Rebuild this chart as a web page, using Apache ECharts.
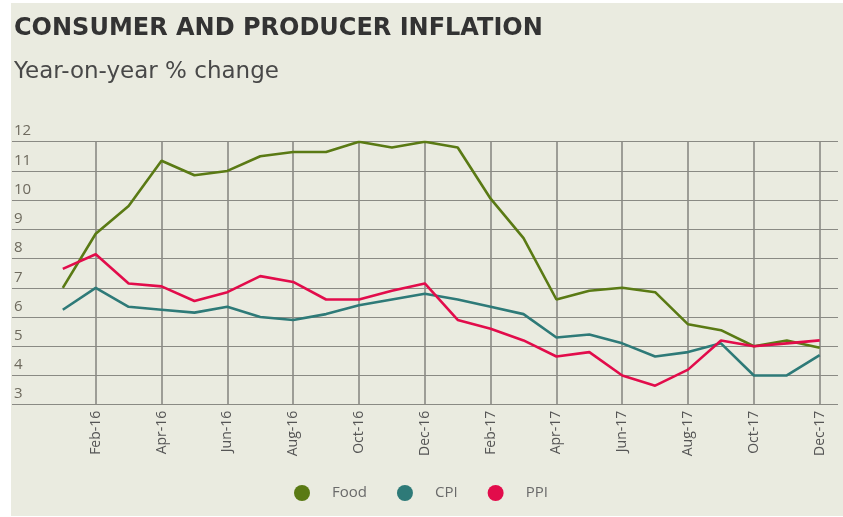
<!DOCTYPE html>
<html>
<head>
<meta charset="utf-8">
<script src="https://cdn.jsdelivr.net/npm/echarts@6/dist/echarts.min.js"></script>
<style>
  html, body { margin: 0; padding: 0; background: #fff; }
  #chart { position: absolute; left: 11px; top: 3px; width: 832px; height: 513px; }
</style>
</head>
<body>
<div id="chart"></div>
<script>
const months = ["Jan-16", "Feb-16", "Mar-16", "Apr-16", "May-16", "Jun-16", "Jul-16", "Aug-16",
  "Sep-16", "Oct-16", "Nov-16", "Dec-16", "Jan-17", "Feb-17", "Mar-17", "Apr-17",
  "May-17", "Jun-17", "Jul-17", "Aug-17", "Sep-17", "Oct-17", "Nov-17", "Dec-17"];
const food = [7.0, 8.85, 9.8, 11.35, 10.85, 11.0, 11.5, 11.65, 11.65, 12.0, 11.8, 12.0,
  11.8, 10.05, 8.7, 6.6, 6.9, 7.0, 6.85, 5.75, 5.55, 5.0, 5.2, 4.95];
const cpi = [6.25, 7.0, 6.35, 6.25, 6.15, 6.35, 6.0, 5.9, 6.1, 6.4, 6.6, 6.8,
  6.6, 6.35, 6.1, 5.3, 5.4, 5.1, 4.65, 4.8, 5.1, 4.0, 4.0, 4.7];
const ppi = [7.65, 8.15, 7.15, 7.05, 6.55, 6.85, 7.4, 7.2, 6.6, 6.6, 6.9, 7.15,
  5.9, 5.6, 5.2, 4.65, 4.8, 4.0, 3.65, 4.2, 5.2, 5.0, 5.1, 5.2];

const gridColor = "#8a8a84";
const chart = echarts.init(document.getElementById("chart"));
chart.setOption({
  backgroundColor: "#eaebe0",
  animation: false,
  title: {
    text: "CONSUMER AND PRODUCER INFLATION",
    subtext: "Year-on-year % change",
    left: 3,
    top: 14,
    padding: 0,
    itemGap: 20,
    textStyle: { fontFamily: "DejaVu Sans", fontSize: 24, fontWeight: "bold", color: "#333" },
    subtextStyle: { fontFamily: "DejaVu Sans", fontSize: 23, color: "#484848" },
  },
  legend: {
    left: 278,
    top: 477,
    icon: "circle",
    itemWidth: 50,
    itemHeight: 16,
    itemGap: 30,
    textStyle: { fontFamily: "Open Sans", fontSize: 15, color: "#6a6a6a" },
    data: ["Food", "CPI", "PPI"],
  },
  grid: [
    { left: 51.8, right: 23.3, top: 138.7, bottom: 111.3 },
    { left: 1, right: 5, top: 138.7, bottom: 111.3 },
  ],
  xAxis: [
    {
      gridIndex: 0,
      type: "category",
      boundaryGap: false,
      data: months,
      axisLine: { show: false },
      axisTick: { show: false },
      splitLine: {
        show: true,
        interval: (i) => i % 2 === 1,
        lineStyle: { color: gridColor, width: 1.6 },
      },
      axisLabel: {
        interval: (i) => i % 2 === 1,
        rotate: 90,
        margin: 6,
        fontFamily: "Open Sans",
        fontSize: 14,
        color: "#555",
      },
    },
    { gridIndex: 1, type: "value", min: 0, max: 1, show: false },
  ],
  yAxis: [
    { gridIndex: 0, type: "value", min: 3, max: 12, show: false },
    {
      gridIndex: 1,
      type: "value",
      min: 3,
      max: 12,
      interval: 1,
      axisLine: { show: false },
      axisTick: { show: false },
      splitLine: { show: true, lineStyle: { color: gridColor, width: 1 } },
      axisLabel: {
        inside: true,
        margin: 2,
        verticalAlign: "bottom",
        padding: [0, 0, 3, 0],
        fontFamily: "Open Sans",
        fontSize: 15,
        color: "#6e6a5e",
      },
    },
  ],
  series: [
    { name: "Food", type: "line", data: food, symbol: "none", color: "#5a7a14", lineStyle: { width: 2.6 } },
    { name: "CPI", type: "line", data: cpi, symbol: "none", color: "#2e7a78", lineStyle: { width: 2.6 } },
    { name: "PPI", type: "line", data: ppi, symbol: "none", color: "#e20c4b", lineStyle: { width: 2.6 } },
  ],
});
</script>
</body>
</html>
